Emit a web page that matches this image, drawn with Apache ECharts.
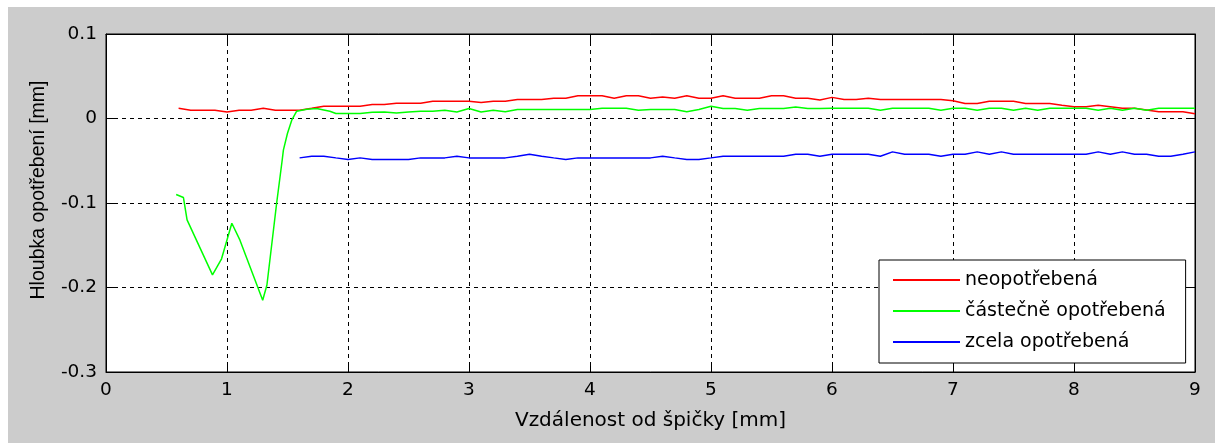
<!DOCTYPE html>
<html>
<head>
<meta charset="utf-8">
<script src="https://cdn.jsdelivr.net/npm/echarts@6/dist/echarts.min.js"></script>
<style>
  html, body { margin: 0; padding: 0; background: #ffffff; }
  #fig { position: absolute; left: 8px; top: 7px; width: 1207px; height: 436px; background: #cccccc; }
  #chart { position: absolute; left: 0; top: 0; width: 1215px; height: 443px; }
</style>
</head>
<body>
<div id="fig"></div>
<div id="chart"></div>
<script>
// legenda a popisky
var seriesNames = ['neopotřebená', 'částečně opotřebená', 'zcela opotřebená'];
var xTicks = [0, 1, 2, 3, 4, 5, 6, 7, 8, 9];
var yTicks = [-0.3, -0.2, -0.1, 0, 0.1];

// neopotřebená (červená)
var redX = [0.6, 0.7, 0.8, 0.9, 1.0, 1.1, 1.2, 1.3, 1.4, 1.5, 1.6, 1.7, 1.8, 1.9, 2.0, 2.1, 2.2, 2.3, 2.4, 2.5,
  2.6, 2.7, 2.8, 2.9, 3.0, 3.1, 3.2, 3.3, 3.4, 3.5, 3.6, 3.7, 3.8, 3.9, 4.0, 4.1, 4.2, 4.3, 4.4, 4.5,
  4.6, 4.7, 4.8, 4.9, 5.0, 5.1, 5.2, 5.3, 5.4, 5.5, 5.6, 5.7, 5.8, 5.9, 6.0, 6.1, 6.2, 6.3, 6.4, 6.5,
  6.6, 6.7, 6.8, 6.9, 7.0, 7.1, 7.2, 7.3, 7.4, 7.5, 7.6, 7.7, 7.8, 7.9, 8.0, 8.1, 8.2, 8.3, 8.4, 8.5,
  8.6, 8.7, 8.8, 8.9, 9.0];
var redY = [0.012, 0.0098, 0.0098, 0.0098, 0.0078, 0.0098, 0.0098, 0.0122, 0.0098, 0.0098, 0.0098, 0.012, 0.0146, 0.0146, 0.0146, 0.0146, 0.0166, 0.0166, 0.018, 0.018,
  0.018, 0.0205, 0.0205, 0.0205, 0.0205, 0.019, 0.0205, 0.0205, 0.0225, 0.0225, 0.0225, 0.024, 0.024, 0.027, 0.027, 0.027, 0.024, 0.027, 0.027, 0.024,
  0.0255, 0.024, 0.027, 0.024, 0.024, 0.027, 0.024, 0.024, 0.024, 0.027, 0.027, 0.024, 0.024, 0.022, 0.025, 0.0225, 0.0225, 0.024, 0.0225, 0.0225,
  0.0225, 0.0225, 0.0225, 0.0225, 0.021, 0.0177, 0.0177, 0.0205, 0.0205, 0.0205, 0.0177, 0.0177, 0.0177, 0.0157, 0.014, 0.014, 0.0157, 0.014, 0.012, 0.012,
  0.010, 0.008, 0.008, 0.008, 0.0055];

// částečně opotřebená (zelená)
var greenX = [0.58, 0.64, 0.67, 0.88, 0.955, 1.04, 1.107, 1.295, 1.33, 1.41, 1.456, 1.466, 1.5, 1.535, 1.576, 1.66, 1.74, 1.85, 1.9, 2.0,
  2.1, 2.2, 2.3, 2.4, 2.5, 2.6, 2.7, 2.8, 2.9, 3.0, 3.1, 3.2, 3.3, 3.4, 3.5, 3.6, 3.7, 3.8, 3.9, 4.0,
  4.1, 4.2, 4.3, 4.4, 4.5, 4.6, 4.7, 4.8, 4.9, 5.0, 5.1, 5.2, 5.3, 5.4, 5.5, 5.6, 5.7, 5.8, 5.9, 6.0,
  6.1, 6.2, 6.3, 6.4, 6.5, 6.6, 6.7, 6.8, 6.9, 7.0, 7.1, 7.2, 7.3, 7.4, 7.5, 7.6, 7.7, 7.8, 7.9, 8.0,
  8.1, 8.2, 8.3, 8.4, 8.5, 8.6, 8.7, 8.8, 8.9, 9.0];
var greenY = [-0.090, -0.0935, -0.120, -0.185, -0.166, -0.124, -0.144, -0.215, -0.197, -0.1006, -0.0494, -0.0375, -0.0175, -0.002, 0.0086, 0.011, 0.0118, 0.0086, 0.006, 0.006,
  0.006, 0.0075, 0.0078, 0.0066, 0.0078, 0.0086, 0.0086, 0.0098, 0.0078, 0.0118, 0.0078, 0.0098, 0.008, 0.0106, 0.0106, 0.0106, 0.0106, 0.0106, 0.0106, 0.0106,
  0.012, 0.012, 0.012, 0.0098, 0.0106, 0.0106, 0.0106, 0.008, 0.0106, 0.0145, 0.0118, 0.0118, 0.0098, 0.0118, 0.0118, 0.0118, 0.0135, 0.0118, 0.0118, 0.0122,
  0.0122, 0.0122, 0.0122, 0.0098, 0.0122, 0.0122, 0.0122, 0.0122, 0.0098, 0.0122, 0.0122, 0.0098, 0.0122, 0.0122, 0.0098, 0.0122, 0.0098, 0.0122, 0.0122, 0.0122,
  0.0122, 0.0098, 0.0122, 0.0098, 0.0122, 0.0098, 0.0122, 0.0122, 0.0122, 0.0122];

// zcela opotřebená (modrá)
var blueX = [1.6, 1.7, 1.8, 1.9, 2.0, 2.1, 2.2, 2.3, 2.4, 2.5, 2.6, 2.7, 2.8, 2.9, 3.0, 3.1, 3.2, 3.3, 3.4, 3.5,
  3.6, 3.7, 3.8, 3.9, 4.0, 4.1, 4.2, 4.3, 4.4, 4.5, 4.6, 4.7, 4.8, 4.9, 5.0, 5.1, 5.2, 5.3, 5.4, 5.5,
  5.6, 5.7, 5.8, 5.9, 6.0, 6.1, 6.2, 6.3, 6.4, 6.5, 6.6, 6.7, 6.8, 6.9, 7.0, 7.1, 7.2, 7.3, 7.4, 7.5,
  7.6, 7.7, 7.8, 7.9, 8.0, 8.1, 8.2, 8.3, 8.4, 8.5, 8.6, 8.7, 8.8, 8.9, 9.0];
var blueY = [-0.0466, -0.0446, -0.0446, -0.0466, -0.0485, -0.0466, -0.0485, -0.0485, -0.0485, -0.0485, -0.0466, -0.0466, -0.0466, -0.0446, -0.0466, -0.0466, -0.0466, -0.0466, -0.0446, -0.0423,
  -0.0446, -0.0466, -0.0485, -0.0466, -0.0466, -0.0466, -0.0466, -0.0466, -0.0466, -0.0466, -0.0446, -0.0466, -0.0485, -0.0485, -0.0466, -0.0446, -0.0446, -0.0446, -0.0446, -0.0446,
  -0.0446, -0.0423, -0.0423, -0.0446, -0.0423, -0.0423, -0.0423, -0.0423, -0.0446, -0.0395, -0.0423, -0.0423, -0.0423, -0.0446, -0.0423, -0.0423, -0.0395, -0.0423, -0.0395, -0.0423,
  -0.0423, -0.0423, -0.0423, -0.0423, -0.0423, -0.0423, -0.0395, -0.0423, -0.0395, -0.0423, -0.0423, -0.0446, -0.0446, -0.0423, -0.0395];

function pairs(xs, ys) {
  var out = [];
  for (var i = 0; i < xs.length; i++) out.push([xs[i], ys[i]]);
  return out;
}

// vodorovny text je v originale sirsi (hinting), proto DejaVu
var font = 'DejaVu Sans, sans-serif';
var fontRot = 'Liberation Sans, Arial, sans-serif';
var gridLine = { show: true, lineStyle: { color: '#000', type: [4, 4], width: 1 } };

var chart = echarts.init(document.getElementById('chart'), null, { renderer: 'canvas' });

var option = {
  backgroundColor: 'transparent',
  animation: false,
  textStyle: { fontFamily: font },
  grid: { left: 106, right: 20, top: 34, bottom: 71, show: true, backgroundColor: '#fff', borderColor: '#000', borderWidth: 1 },
  legend: {
    orient: 'vertical',
    left: 879,
    top: 260,
    padding: [9, 20, 10, 14],
    itemWidth: 67,
    itemHeight: 2,
    itemGap: 9,
    icon: 'rect',
    backgroundColor: '#fff',
    borderColor: '#000',
    borderWidth: 1,
    textStyle: { fontSize: 19, color: '#000', fontFamily: font, lineHeight: 22 },
    data: seriesNames
  },
  xAxis: [{
    type: 'value',
    min: xTicks[0],
    max: xTicks[xTicks.length - 1],
    interval: 1,
    name: 'Vzdálenost od špičky [mm]',
    nameLocation: 'middle',
    nameGap: 39,
    nameTextStyle: { fontSize: 20, color: '#000', fontFamily: font },
    axisLine: { show: true, onZero: false, lineStyle: { color: '#000', width: 1 } },
    axisTick: { show: true, inside: true, length: 9, lineStyle: { color: '#000' } },
    axisLabel: { fontSize: 18.5, color: '#000', margin: 9, fontFamily: font },
    splitLine: gridLine
  }, {
    type: 'value',
    position: 'top',
    min: xTicks[0],
    max: xTicks[xTicks.length - 1],
    interval: 1,
    axisLine: { show: true, onZero: false, lineStyle: { color: '#000', width: 1 } },
    axisTick: { show: true, inside: true, length: 9, lineStyle: { color: '#000' } },
    axisLabel: { show: false },
    splitLine: { show: false }
  }],
  yAxis: [{
    type: 'value',
    min: yTicks[0],
    max: yTicks[yTicks.length - 1],
    interval: 0.1,
    name: 'Hloubka opotřebení [mm]',
    nameLocation: 'middle',
    nameGap: 57,
    nameTextStyle: { fontSize: 19.5, color: '#000', fontFamily: fontRot, padding: [0, 0, 0, 26] },
    axisLine: { show: true, onZero: false, lineStyle: { color: '#000', width: 1 } },
    axisTick: { show: true, inside: true, length: 9, lineStyle: { color: '#000' } },
    axisLabel: {
      fontSize: 18.5, color: '#000', margin: 9, fontFamily: font,
      formatter: function (v) { return String(Math.round(v * 10) / 10); }
    },
    splitLine: gridLine
  }, {
    type: 'value',
    position: 'right',
    min: yTicks[0],
    max: yTicks[yTicks.length - 1],
    interval: 0.1,
    axisLine: { show: true, onZero: false, lineStyle: { color: '#000', width: 1 } },
    axisTick: { show: true, inside: true, length: 9, lineStyle: { color: '#000' } },
    axisLabel: { show: false },
    splitLine: { show: false }
  }],
  series: [{
    name: seriesNames[0],
    type: 'line',
    data: pairs(redX, redY),
    showSymbol: false,
    color: '#ff0000',
    lineStyle: { color: '#ff0000', width: 1.5 }
  }, {
    name: seriesNames[1],
    type: 'line',
    data: pairs(greenX, greenY),
    showSymbol: false,
    color: '#00ff00',
    lineStyle: { color: '#00ff00', width: 1.5 }
  }, {
    name: seriesNames[2],
    type: 'line',
    data: pairs(blueX, blueY),
    showSymbol: false,
    color: '#0000ff',
    lineStyle: { color: '#0000ff', width: 1.5 }
  }]
};

chart.setOption(option);
</script>
</body>
</html>
